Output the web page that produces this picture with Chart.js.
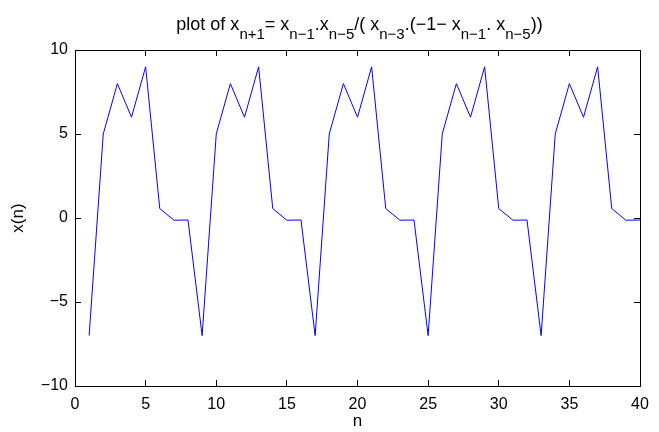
<!DOCTYPE html>
<html>
<head>
<meta charset="utf-8">
<script src="https://cdn.jsdelivr.net/npm/chart.js@4.4.0/dist/chart.umd.min.js"></script>
<style>
html,body{margin:0;padding:0;background:#fff;}
#wrap{position:relative;width:659px;height:432px;}
#title{position:absolute;left:60px;width:599px;top:14px;text-align:center;white-space:nowrap;
  font-family:"Liberation Sans", Arial, Helvetica, sans-serif;font-size:18px;line-height:20px;color:#000;}
#title .s{font-size:15px;vertical-align:-9px;line-height:0;}
</style>
</head>
<body>
<div id="wrap">
<canvas id="c" width="659" height="432"></canvas>
<div id="title">plot of x<span class="s">n+1</span>= x<span class="s">n&#8722;1</span>.x<span class="s">n&#8722;5</span>/( x<span class="s">n&#8722;3</span>.(&#8722;1&#8722; x<span class="s">n&#8722;1</span>. x<span class="s">n&#8722;5</span>))</div>
</div>
<script>
const nValues = [1,2,3,4,5,6,7,8,9,10,11,12,13,14,15,16,17,18,19,20,21,22,23,24,25,26,27,28,29,30,31,32,33,34,35,36,37,38,39,40];
const xValues = [
  -7, 5, 8, 6, 9, 0.56, -0.13, -0.12,
  -7, 5, 8, 6, 9, 0.56, -0.13, -0.12,
  -7, 5, 8, 6, 9, 0.56, -0.13, -0.12,
  -7, 5, 8, 6, 9, 0.56, -0.13, -0.12,
  -7, 5, 8, 6, 9, 0.56, -0.13, -0.12
];
const xTicks = [0,5,10,15,20,25,30,35,40];
const yTicks = [-10,-5,0,5,10];
const FONT = "Liberation Sans, Arial, Helvetica, sans-serif";
const points = nValues.map((n,i)=>({x:n, y:xValues[i]}));
const fmt = v => (v<0 ? "\u2212"+Math.abs(v) : String(v));

const gridOpts = {display:true, drawOnChartArea:false, drawTicks:true, tickLength:-6, color:'#000', lineWidth:1};
const borderOpts = {display:true, color:'#000', width:1};
const noPad = s => { s.paddingLeft = 0; s.paddingRight = 0; s.paddingTop = 0; s.paddingBottom = 0; };

new Chart(document.getElementById('c'), {
  type:'line',
  data:{datasets:[{data:points, borderColor:'#0000ff', borderWidth:1, pointRadius:0, tension:0, fill:false, xAxisID:'x', yAxisID:'y'}]},
  options:{
    responsive:false, animation:false, devicePixelRatio:1,
    layout:{padding:{top:50, right:19, left:0, bottom:0}},
    plugins:{legend:{display:false}, tooltip:{enabled:false}, title:{display:false}},
    scales:{
      x:{type:'linear', position:'bottom', min:0, max:40,
        afterBuildTicks(s){ s.ticks = xTicks.map(v=>({value:v})); },
        afterFit(s){ s.height = 46; noPad(s); },
        grid:gridOpts, border:borderOpts,
        ticks:{color:'#000', font:{family:FONT, size:16}, padding:15, maxRotation:0, callback:fmt},
        title:{display:true, text:'n', color:'#000', font:{family:FONT, size:17}, padding:{top:0,bottom:0}}
      },
      y:{type:'linear', position:'left', min:-10, max:10,
        afterBuildTicks(s){ s.ticks = yTicks.map(v=>({value:v})); },
        afterFit(s){ s.width = 75; noPad(s); },
        grid:gridOpts, border:borderOpts,
        ticks:{color:'#000', font:{family:FONT, size:16}, padding:13, callback:fmt},
        title:{display:true, text:'x(n)', color:'#000', font:{family:FONT, size:17}, padding:{top:8,bottom:0}}
      },
      x2:{type:'linear', position:'top', min:0, max:40,
        afterBuildTicks(s){ s.ticks = xTicks.map(v=>({value:v})); },
        afterFit(s){ s.height = 0; noPad(s); },
        grid:gridOpts, border:borderOpts,
        ticks:{display:false}
      },
      y2:{type:'linear', position:'right', min:-10, max:10,
        afterBuildTicks(s){ s.ticks = yTicks.map(v=>({value:v})); },
        afterFit(s){ s.width = 0; noPad(s); },
        grid:gridOpts, border:borderOpts,
        ticks:{display:false}
      }
    }
  }
});
</script>
</body>
</html>
